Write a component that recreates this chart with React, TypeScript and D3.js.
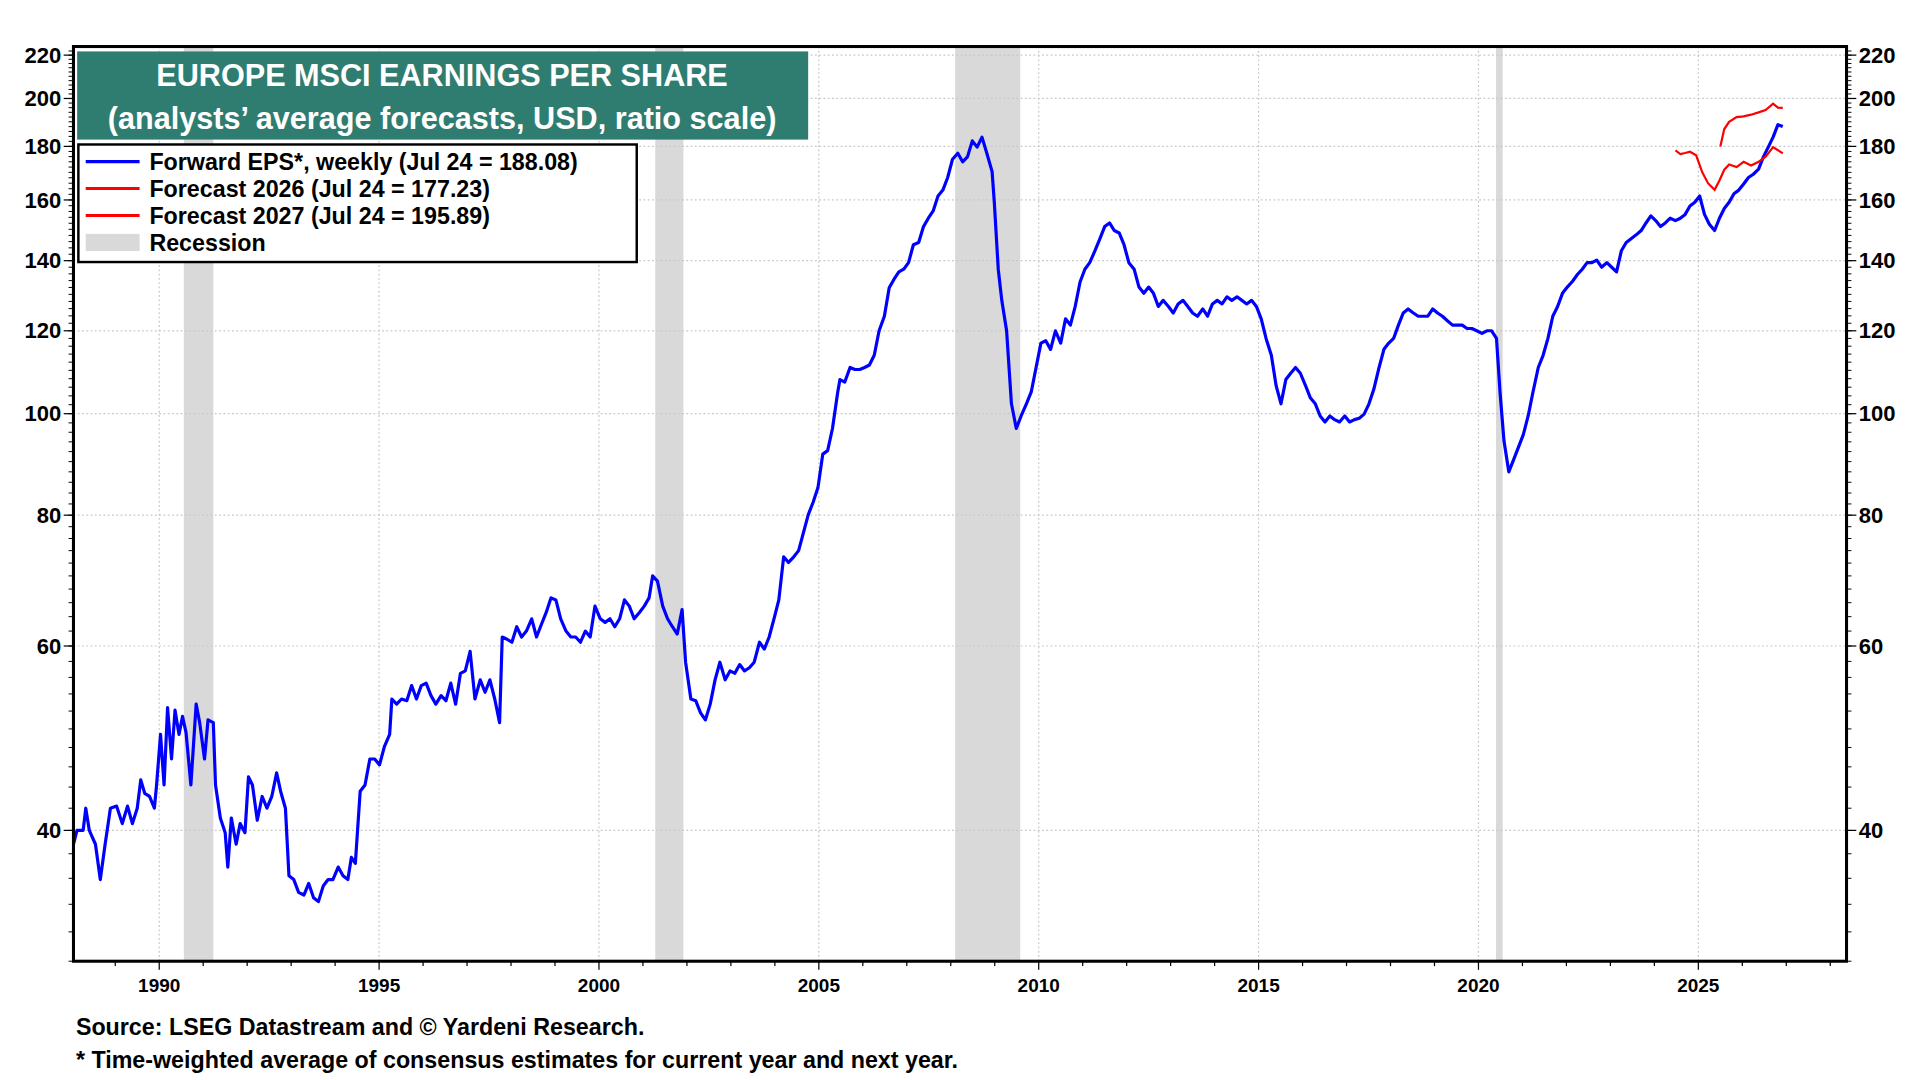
import * as d3 from "d3";

const epsYears = [1988.05,1988.13,1988.27,1988.33,1988.41,1988.55,1988.66,1988.77,1988.89,1989.03,1989.16,1989.28,1989.39,1989.5,1989.58,1989.67,1989.78,1989.89,1989.94,1990.03,1990.11,1990.19,1990.28,1990.36,1990.45,1990.53,1990.61,1990.72,1990.84,1990.92,1991.03,1991.11,1991.23,1991.28,1991.39,1991.5,1991.56,1991.64,1991.75,1991.84,1991.95,1992.03,1992.12,1992.23,1992.34,1992.45,1992.56,1992.67,1992.76,1992.87,1992.95,1993.06,1993.17,1993.29,1993.4,1993.51,1993.62,1993.73,1993.84,1993.95,1994.07,1994.18,1994.29,1994.37,1994.46,1994.57,1994.68,1994.79,1994.9,1995.01,1995.12,1995.24,1995.29,1995.4,1995.51,1995.63,1995.74,1995.85,1995.96,1996.07,1996.18,1996.29,1996.41,1996.52,1996.63,1996.74,1996.85,1996.96,1997.07,1997.18,1997.3,1997.41,1997.52,1997.63,1997.74,1997.8,1997.91,1998.02,1998.13,1998.24,1998.35,1998.47,1998.58,1998.69,1998.8,1998.91,1999.02,1999.13,1999.25,1999.36,1999.47,1999.58,1999.69,1999.8,1999.91,2000.03,2000.14,2000.25,2000.36,2000.47,2000.58,2000.69,2000.8,2000.92,2001.03,2001.14,2001.22,2001.33,2001.45,2001.56,2001.67,2001.78,2001.89,2001.97,2002.09,2002.2,2002.31,2002.42,2002.53,2002.64,2002.75,2002.87,2002.98,2003.09,2003.2,2003.31,2003.42,2003.53,2003.65,2003.76,2003.87,2003.98,2004.09,2004.2,2004.31,2004.43,2004.54,2004.65,2004.76,2004.87,2004.98,2005.09,2005.2,2005.31,2005.43,2005.48,2005.59,2005.71,2005.82,2005.93,2006.04,2006.15,2006.26,2006.37,2006.49,2006.6,2006.71,2006.82,2006.93,2007.04,2007.15,2007.27,2007.38,2007.49,2007.6,2007.71,2007.82,2007.93,2008.04,2008.16,2008.27,2008.38,2008.49,2008.6,2008.71,2008.82,2008.94,2008.99,2009.08,2009.16,2009.27,2009.38,2009.49,2009.6,2009.72,2009.83,2009.94,2010.05,2010.16,2010.27,2010.38,2010.5,2010.61,2010.72,2010.83,2010.94,2011.05,2011.16,2011.28,2011.39,2011.5,2011.61,2011.72,2011.83,2011.94,2012.05,2012.17,2012.28,2012.39,2012.5,2012.61,2012.72,2012.83,2012.95,2013.06,2013.17,2013.28,2013.39,2013.5,2013.61,2013.73,2013.84,2013.95,2014.06,2014.17,2014.28,2014.39,2014.51,2014.62,2014.73,2014.84,2014.95,2015.06,2015.17,2015.29,2015.4,2015.51,2015.62,2015.73,2015.84,2015.95,2016.07,2016.18,2016.29,2016.4,2016.51,2016.62,2016.73,2016.84,2016.96,2017.07,2017.18,2017.29,2017.4,2017.51,2017.62,2017.74,2017.85,2017.96,2018.07,2018.18,2018.29,2018.4,2018.52,2018.63,2018.74,2018.85,2018.96,2019.07,2019.18,2019.3,2019.41,2019.52,2019.63,2019.74,2019.85,2019.96,2020.08,2020.19,2020.3,2020.41,2020.49,2020.58,2020.69,2020.8,2020.91,2021.02,2021.13,2021.24,2021.36,2021.47,2021.58,2021.69,2021.8,2021.91,2022.02,2022.14,2022.25,2022.36,2022.47,2022.58,2022.69,2022.8,2022.92,2023.03,2023.14,2023.25,2023.36,2023.47,2023.58,2023.7,2023.81,2023.92,2024.03,2024.14,2024.25,2024.36,2024.48,2024.59,2024.7,2024.81,2024.92,2025.03,2025.14,2025.25,2025.37,2025.48,2025.59,2025.7,2025.81,2025.92,2026.03,2026.14,2026.25,2026.37,2026.48,2026.59,2026.7,2026.81,2026.92];
const epsValues = [38.8,40,40,42,40,38.8,35.9,38.8,42,42.2,40.6,42.2,40.6,42,44.7,43.4,43.1,42,44.2,49.4,44.2,52.4,46.8,52.1,49.4,51.4,49.6,44.2,52.8,50.7,46.8,51,50.7,44.2,41.1,39.8,36.9,41.1,38.8,40.6,39.8,45,44.2,40.9,43.1,42,43.1,45.4,43.6,42,36.2,35.9,34.9,34.7,35.6,34.5,34.2,35.4,35.9,35.9,36.9,36.2,35.9,37.7,37.2,43.6,44.2,46.8,46.8,46.2,48.1,49.4,53.4,52.8,53.4,53.2,55,53.4,55,55.3,53.8,52.8,53.8,53.2,55.3,52.8,56.5,56.8,59.3,53.4,55.7,54.2,55.7,53.4,50.7,61.2,60.9,60.5,62.6,61.2,62,63.7,61.2,62.9,64.6,66.7,66.4,63.7,62,61.2,61.2,60.5,62,61.2,65.5,63.7,63.2,63.7,62.6,63.7,66.4,65.5,63.7,64.6,65.5,66.7,70,69.2,65.5,63.7,62.6,61.6,65,57.9,53.4,53.2,51.8,51,52.8,55.7,57.9,55.7,56.8,56.5,57.6,56.8,57.2,57.9,60.5,59.6,61.2,63.7,66.4,73,72.1,73,74,77,80.1,82.3,85,91.5,92.2,96.8,104.9,107.8,107.2,110.7,110.2,110.2,110.7,111.3,113.7,120,123.9,131.9,134.4,136.6,137.4,139.4,145,145.7,150.9,153.7,156.2,161.4,163.5,168.1,175,177.3,174,175.9,182.2,179.7,183.7,177.3,170.3,159.2,137.4,128.3,120,102.2,96.8,99.5,102.2,104.9,110.7,116.8,117.4,115.2,120,116.8,123.2,121.5,126.6,133.6,137.4,139.4,143.1,146.9,150.9,152.1,149.6,148.8,145,139.4,137.4,132.1,130.3,132.1,130.3,126.6,128.3,126.6,124.8,127.3,128.3,126.6,124.8,123.9,125.9,123.9,127.3,128.3,127.3,129.3,128.3,129.3,128.3,127.3,128.3,126.6,123.2,118,113.7,106.3,102.2,107.8,109.3,110.7,109.3,106.3,103.5,102.2,99.5,98.2,99.5,98.7,98.2,99.5,98.2,98.7,99,99.9,102.2,105.5,110.7,115.2,116.8,118,121.5,124.8,125.9,124.8,123.9,123.9,123.9,125.9,124.8,123.9,122.6,121.5,121.5,121.5,120.6,120.6,120,119.3,120,120,118,104.9,94.2,88,90.4,92.9,95.5,99.5,104.9,110.7,113.7,118,123.9,126.6,130.3,132.1,133.8,135.8,137.4,139.4,139.4,140.2,138,139.4,138,136.6,143.1,145.7,146.9,148.1,149.6,152.1,154.5,152.9,150.9,152.1,153.7,152.9,153.7,155,157.9,159.2,161.4,155,151.7,149.6,153.7,157,159.2,162.2,163.5,165.7,168.1,169.3,171.2,175.9,179.7,183.7,188.8,188.08];

const f26Years = [2024.48,2024.59,2024.7,2024.81,2024.95,2025.09,2025.22,2025.37,2025.48,2025.59,2025.7,2025.87,2026.03,2026.2,2026.37,2026.53,2026.7,2026.81,2026.92];
const f26Values = [178.4,177,177.4,177.9,176.5,170,166,163.6,167,171,173,172,174,172.6,174,176,179.7,178.5,177.23];
const f27Years = [2025.5,2025.59,2025.7,2025.87,2026.03,2026.2,2026.37,2026.53,2026.7,2026.81,2026.92];
const f27Values = [180,187,190,192,192.3,193,194,195,197.7,196,195.89];

const recessions: [number, number][] = [[1990.56, 1991.23], [2001.28, 2001.92], [2008.1, 2009.58], [2020.4, 2020.55]];
const yTicks = [40, 60, 80, 100, 120, 140, 160, 180, 200, 220];
const xTicks = [1990, 1995, 2000, 2005, 2010, 2015, 2020, 2025];
const legendItems = [
  { label: "Forward EPS*, weekly (Jul 24 = 188.08)", color: "#0000ff", kind: "line" },
  { label: "Forecast 2026 (Jul 24 = 177.23)", color: "#ff0000", kind: "line" },
  { label: "Forecast 2027 (Jul 24 = 195.89)", color: "#ff0000", kind: "line" },
  { label: "Recession", color: "#d9d9d9", kind: "box" },
];

const W = 1568, H = 882;
const m = { left: 60, right: 1508, top: 38, bottom: 785 };

export default function App() {
  const x = d3.scaleLinear().domain([1988.05, 2028.37]).range([m.left, m.right]);
  const y = d3.scaleLog().domain([30, 224.2]).range([m.bottom, m.top]);
  const line = (xs: number[], vs: number[]) =>
    d3.line<number>().x((_, i) => x(xs[i])).y((d) => y(d))(vs) || "";
  const minor = d3.range(30, 224, 2);
  const minorX = d3.range(1989, 2029, 1);
  const font = "'Liberation Sans', Arial, sans-serif";

  return (
    <svg width={1920} height={1080} viewBox={`0 0 ${W} ${H}`}
      style={{ position: "absolute", left: 0, top: 0, background: "#fff", fontFamily: font, fontWeight: "bold" }}>
      {recessions.map(([a, b], i) => (
        <rect key={i} x={x(a)} y={m.top} width={x(b) - x(a)} height={m.bottom - m.top} fill="#d9d9d9" />
      ))}
      {yTicks.map((t) => (
        <line key={t} x1={m.left} x2={m.right} y1={y(t)} y2={y(t)} stroke="#c8c8c8" strokeDasharray="1.5 2" />
      ))}
      {xTicks.map((t) => (
        <line key={t} x1={x(t)} x2={x(t)} y1={m.top} y2={m.bottom} stroke="#c8c8c8" strokeDasharray="1.5 2" />
      ))}
      <path d={line(epsYears, epsValues)} fill="none" stroke="#0000ff" strokeWidth={2.6} strokeLinejoin="round" />
      <path d={line(f26Years, f26Values)} fill="none" stroke="#ff0000" strokeWidth={1.8} />
      <path d={line(f27Years, f27Values)} fill="none" stroke="#ff0000" strokeWidth={1.8} />
      <rect x={m.left} y={m.top} width={m.right - m.left} height={m.bottom - m.top} fill="none" stroke="#000" strokeWidth={2.5} />
      {minor.map((t) => (
        <g key={t}>
          <line x1={m.left - 4} x2={m.left} y1={y(t)} y2={y(t)} stroke="#000" strokeWidth={0.8} />
          <line x1={m.right} x2={m.right + 4} y1={y(t)} y2={y(t)} stroke="#000" strokeWidth={0.8} />
        </g>
      ))}
      {yTicks.map((t) => (
        <g key={t}>
          <line x1={m.left - 8} x2={m.left} y1={y(t)} y2={y(t)} stroke="#000" />
          <line x1={m.right} x2={m.right + 8} y1={y(t)} y2={y(t)} stroke="#000" />
          <text x={m.left - 10} y={y(t)} dy="0.35em" textAnchor="end" fontSize={18}>{t}</text>
          <text x={m.right + 10} y={y(t)} dy="0.35em" fontSize={18}>{t}</text>
        </g>
      ))}
      {minorX.map((t) => (
        <line key={t} x1={x(t)} x2={x(t)} y1={m.bottom} y2={m.bottom + (t % 5 === 0 ? 7 : 4)} stroke="#000" />
      ))}
      {xTicks.map((t) => (
        <text key={t} x={x(t)} y={m.bottom + 25} textAnchor="middle" fontSize={15.5}>{t}</text>
      ))}
      <rect x={63} y={42} width={597} height={72} fill="#2e7d70" />
      <text x={361} y={70} textAnchor="middle" fill="#fff" fontSize={25}>EUROPE MSCI EARNINGS PER SHARE</text>
      <text x={361} y={105} textAnchor="middle" fill="#fff" fontSize={25}>(analysts’ average forecasts, USD, ratio scale)</text>
      <rect x={64} y={118} width={456} height={96} fill="#fff" stroke="#000" strokeWidth={2} />
      {legendItems.map((d, i) => (
        <g key={d.label} transform={`translate(70, ${132 + i * 22})`}>
          {d.kind === "line"
            ? <line x1={0} x2={44} y1={0} y2={0} stroke={d.color} strokeWidth={2.5} />
            : <rect x={0} y={-7} width={44} height={14} fill={d.color} />}
          <text x={52} y={0} dy="0.35em" fontSize={19}>{d.label}</text>
        </g>
      ))}
      <text x={62} y={845} fontSize={19}>Source: LSEG Datastream and © Yardeni Research.</text>
      <text x={62} y={872} fontSize={19}>* Time-weighted average of consensus estimates for current year and next year.</text>
    </svg>
  );
}
